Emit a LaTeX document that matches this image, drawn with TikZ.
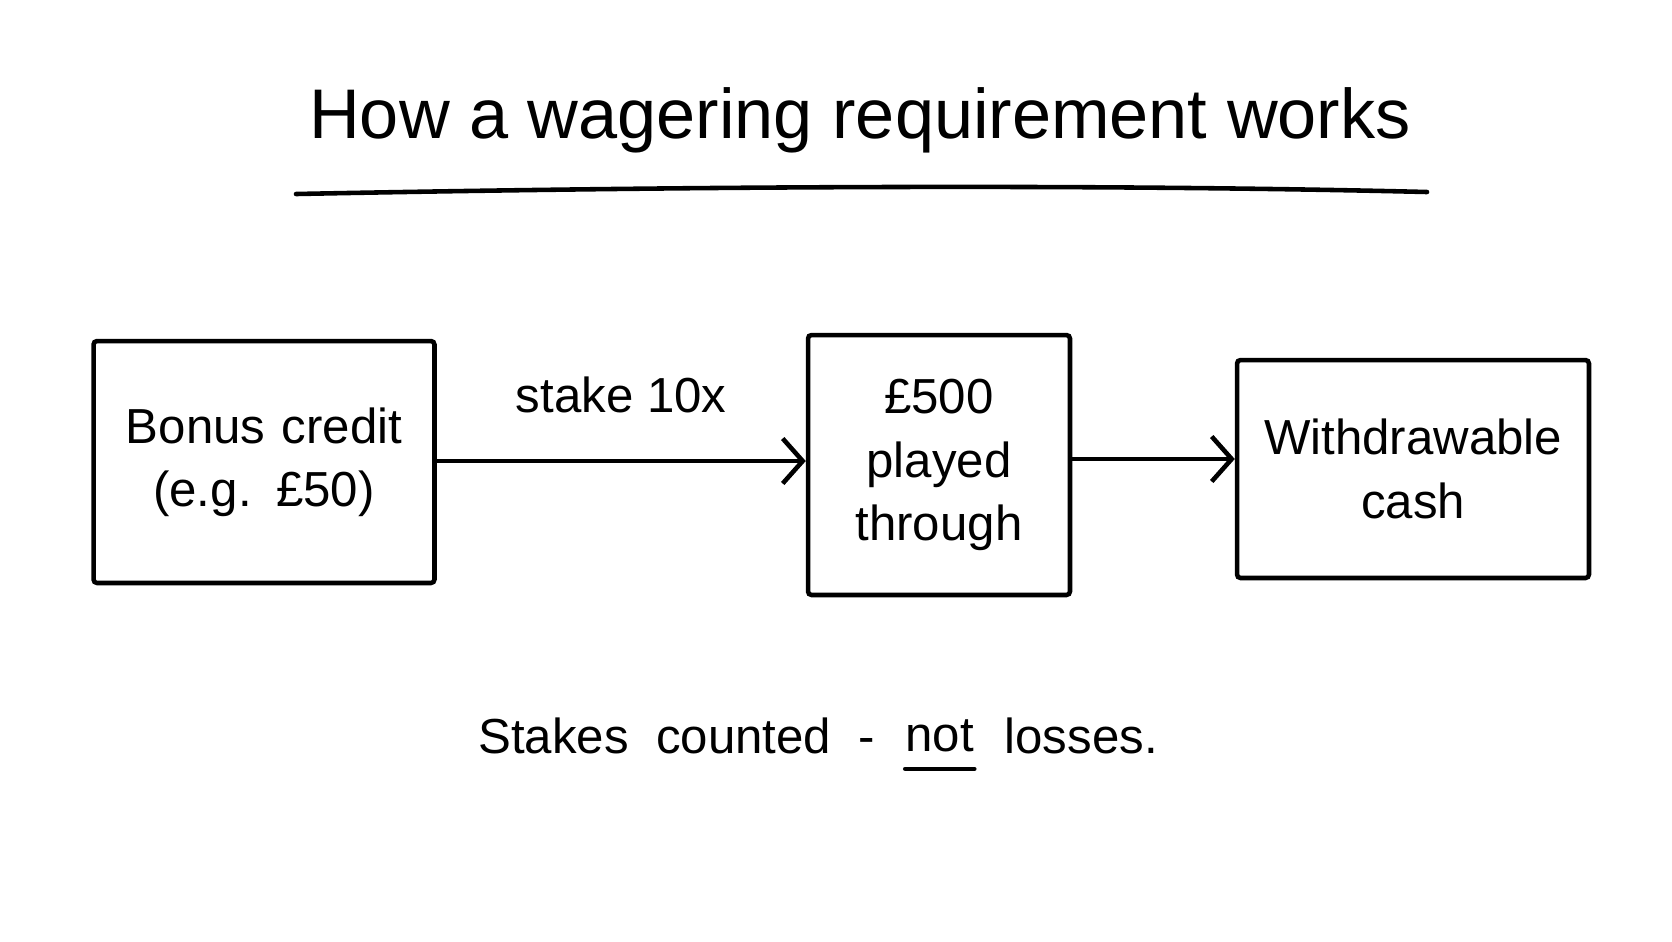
\documentclass[tikz,border=0pt]{standalone}
\usepackage{fontspec}
\setmainfont{Liberation Sans}
\usepackage{tikz}
\usetikzlibrary{arrows.meta,positioning}

\begin{document}
\begin{tikzpicture}[
  x=0.02cm, y=-0.02cm,
  font=\fontsize{28}{36}\selectfont,
  stagebox/.style={draw, line width=2.6pt, rounded corners=2pt, align=center,
               inner sep=6pt},
  arrow/.style={-{Straight Barb[length=4mm, width=9mm, line width=2.6pt]}, line width=2.6pt},
  rule/.style={line width=2.6pt, line cap=round},
  footword/.style={inner xsep=0pt}
]
\useasboundingbox (0,0) rectangle (1672,941);
% title
\node (title) at (860,120) {\fontsize{40}{46}\selectfont How a wagering requirement works};
\coordinate (tl) at (296,194);
\coordinate (tr) at (1427,192);
\draw[rule] (tl) .. controls (700,186) and (1100,184) .. (tr);
% the three stages
\node[stagebox, minimum width=6.82cm, minimum height=4.84cm, text width=6.2cm] (bonus) at (264,462) {Bonus credit\\(e.g. £50)};
\node[stagebox, minimum width=5.24cm, minimum height=5.2cm, text width=4.6cm] (played) at (939,465) {£500\\played\\through};
\node[stagebox, minimum width=7.04cm, minimum height=4.36cm, text width=6.6cm] (cash) at (1413,469) {Withdrawable\\cash};
\draw[arrow] (bonus.east |- 0,461) -- node[above=8mm] (stakelbl) {stake 10x} (played.west |- 0,461);
\draw[arrow] (played.east |- 0,459) -- (cash.west |- 0,459);
% footer
\node[footword, anchor=west] (foot) at (478,736) {Stakes\ \ counted\ \ -};
\node[footword, right=0.6cm of foot.east, anchor=west] (footnot) {not};
\node[footword, right=0.6cm of footnot.east, anchor=west] (footend) {losses.};
\draw[rule] ([yshift=-6pt]footnot.south west) -- ([yshift=-6pt]footnot.south east);
\end{tikzpicture}
\end{document}
